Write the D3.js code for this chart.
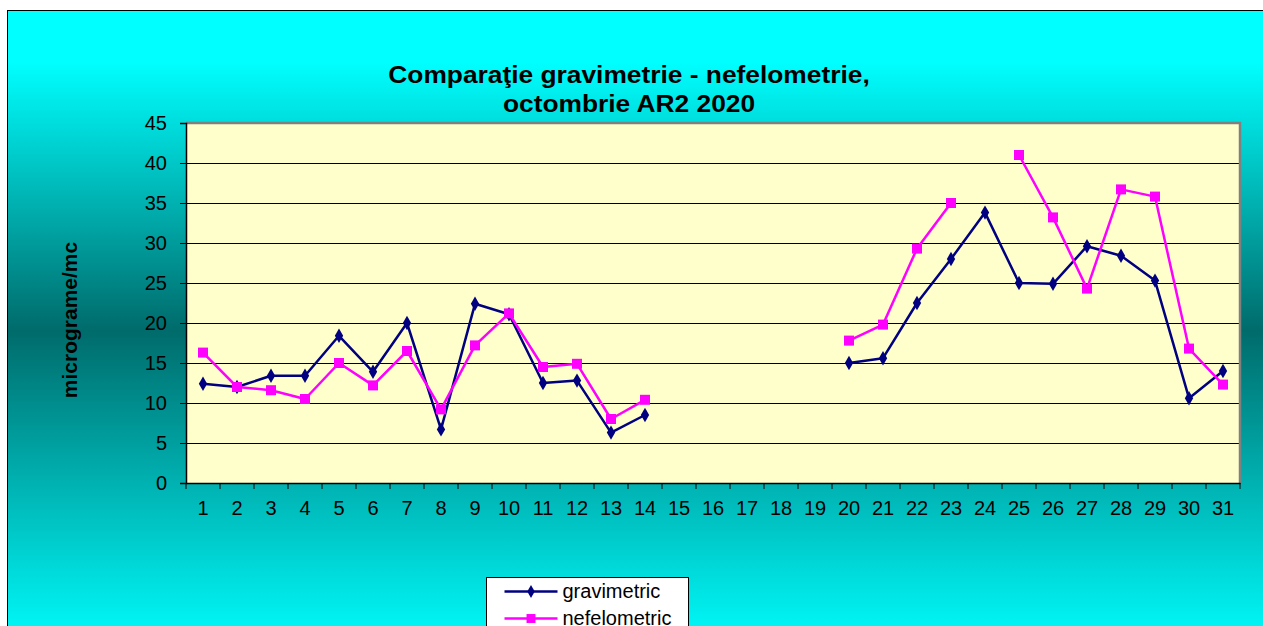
<!DOCTYPE html>
<html>
<head>
<meta charset="utf-8">
<script src="https://cdn.jsdelivr.net/npm/d3@7"></script>
<style>
  body { margin: 0; background: #fff; }
  svg { display: block; }
  text { font-family: "Liberation Sans", Arial, sans-serif; }
</style>
</head>
<body>
<div id="container"></div>
<script>
/* DATA */
const days = ["1","2","3","4","5","6","7","8","9","10","11","12","13","14","15","16",
  "17","18","19","20","21","22","23","24","25","26","27","28","29","30","31"];
const gravimetric = [12.4, 12.0, 13.4, 13.4, 18.4, 13.9, 20.0, 6.7, 22.4, 21.1, 12.5, 12.8, 6.3, 8.5,
  null, null, null, null, null,
  15.0, 15.6, 22.5, 28.0, 33.8, 25.0, 24.9, 29.6, 28.4, 25.3, 10.6, 14.0];
const nefelometric = [16.3, 12.0, 11.6, 10.5, 15.0, 12.2, 16.5, 9.2, 17.2, 21.2, 14.5, 14.9, 8.0, 10.4,
  null, null, null, null, null,
  17.8, 19.8, 29.3, 35.0, null, 41.0, 33.2, 24.3, 36.7, 35.8, 16.8, 12.3];
const yTicks = [0, 5, 10, 15, 20, 25, 30, 35, 40, 45];

/* LAYOUT */
const W = 1263, H = 626;
const margin = { top: 123, right: 23, bottom: 143, left: 186 };
const width = W - margin.left - margin.right;
const height = H - margin.top - margin.bottom;
const font = '"Liberation Sans", Arial, sans-serif';

const svg = d3.select('#container')
  .append('svg')
  .attr('width', W)
  .attr('height', H);

// background gradient (cyan -> teal -> cyan)
const grad = svg.append('defs').append('linearGradient')
  .attr('id', 'bg')
  .attr('x1', 0).attr('y1', 0).attr('x2', 0).attr('y2', 1);
grad.append('stop').attr('offset', '0%').attr('stop-color', '#00ffff');
grad.append('stop').attr('offset', '8%').attr('stop-color', '#00ffff');
grad.append('stop').attr('offset', '50%').attr('stop-color', '#006b6b');
grad.append('stop').attr('offset', '100%').attr('stop-color', '#00ffff');

svg.append('rect')
  .attr('x', 7.5).attr('y', 10.5)
  .attr('width', W).attr('height', 640)
  .attr('fill', 'url(#bg)')
  .attr('stroke', '#000')
  .attr('stroke-width', 1);

const chart = svg.append('g')
  .attr('transform', `translate(${margin.left}, ${margin.top})`);

/* SCALES */
const xScale = d3.scaleBand()
  .domain(days)
  .range([0, width]);

const yScale = d3.scaleLinear()
  .domain([0, 45])
  .range([height, 0]);

// plot area
chart.append('rect')
  .attr('width', width)
  .attr('height', height)
  .attr('fill', '#ffffcc');

// gridlines
chart.selectAll('.grid')
  .data(yTicks.slice(1, -1))
  .enter()
  .append('line')
  .attr('class', 'grid')
  .attr('x1', 0)
  .attr('x2', width)
  .attr('y1', d => Math.round(yScale(d)) + 0.5)
  .attr('y2', d => Math.round(yScale(d)) + 0.5)
  .attr('stroke', '#000')
  .attr('stroke-width', 1);

// gray border top/right
chart.append('path')
  .attr('d', `M0,0 H${width} V${height}`)
  .attr('fill', 'none')
  .attr('stroke', '#808080')
  .attr('stroke-width', 2.5);

/* AXES */
const yAxis = chart.append('g')
  .call(d3.axisLeft(yScale).tickValues(yTicks).tickSize(6).tickPadding(13));
yAxis.select('.domain').attr('stroke', '#000').attr('stroke-width', 1.5);
yAxis.selectAll('text')
  .attr('font-size', 20)
  .attr('fill', '#000')
  .attr('font-family', font);

const xAxis = chart.append('g')
  .attr('transform', `translate(0,${height})`)
  .call(d3.axisBottom(xScale).tickSize(0).tickPadding(18));
xAxis.select('.domain').attr('stroke', '#000').attr('stroke-width', 1.5);
xAxis.selectAll('text')
  .attr('font-size', 20)
  .attr('fill', '#000')
  .attr('font-family', font);

// ticks between categories
chart.append('g')
  .selectAll('line')
  .data(d3.range(days.length + 1))
  .enter()
  .append('line')
  .attr('x1', i => i * xScale.step())
  .attr('x2', i => i * xScale.step())
  .attr('y1', height)
  .attr('y2', height + 6)
  .attr('stroke', '#000');

/* LINES */
const cx = i => xScale(days[i]) + xScale.bandwidth() / 2;
const line = d3.line()
  .defined(d => d != null)
  .x((d, i) => cx(i))
  .y(d => yScale(d));

const series = [
  { name: 'gravimetric', values: gravimetric, color: '#000080', symbol: d3.symbolDiamond, size: 60 },
  { name: 'nefelometric', values: nefelometric, color: '#ff00ff', symbol: d3.symbolSquare, size: 100 }
];

series.forEach(s => {
  chart.append('path')
    .datum(s.values)
    .attr('fill', 'none')
    .attr('stroke', s.color)
    .attr('stroke-width', 2.5)
    .attr('stroke-linejoin', 'round')
    .attr('d', line);

  chart.selectAll('.pt-' + s.name)
    .data(s.values.map((v, i) => ({ v, i })).filter(d => d.v != null))
    .enter()
    .append('path')
    .attr('class', 'pt-' + s.name)
    .attr('d', d3.symbol().type(s.symbol).size(s.size))
    .attr('transform', d => `translate(${cx(d.i)},${yScale(d.v)})`)
    .attr('fill', s.color);
});

/* TITLE */
// the original title is drawn slightly stretched sideways
const title = svg.append('text')
  .attr('transform', 'translate(629,0) scale(1.145,1)')
  .attr('text-anchor', 'middle')
  .attr('font-size', 23)
  .attr('font-weight', 'bold');
title.append('tspan').attr('x', 0).attr('y', 83).text('Comparaţie gravimetrie - nefelometrie,');
title.append('tspan').attr('x', 0).attr('y', 112).text('octombrie AR2 2020');

// Y-axis label
svg.append('text')
  .attr('transform', 'rotate(-90)')
  .attr('x', -320)
  .attr('y', 77)
  .attr('text-anchor', 'middle')
  .attr('font-size', 21)
  .attr('font-weight', 'bold')
  .text('micrograme/mc');

/* LEGEND */
const legend = svg.append('g')
  .attr('transform', 'translate(486.5, 577.5)');

legend.append('rect')
  .attr('width', 202)
  .attr('height', 70)
  .attr('fill', '#fff')
  .attr('stroke', '#000');

series.forEach((s, k) => {
  const y = 14 + k * 27;
  legend.append('line')
    .attr('x1', 18).attr('x2', 71)
    .attr('y1', y).attr('y2', y)
    .attr('stroke', s.color)
    .attr('stroke-width', 2.5);
  legend.append('path')
    .attr('d', d3.symbol().type(s.symbol).size(s.size * 0.8))
    .attr('transform', `translate(44.5,${y})`)
    .attr('fill', s.color);
  legend.append('text')
    .attr('x', 76)
    .attr('y', y + 6)
    .attr('font-size', 20)
    .text(s.name);
});
</script>
</body>
</html>
